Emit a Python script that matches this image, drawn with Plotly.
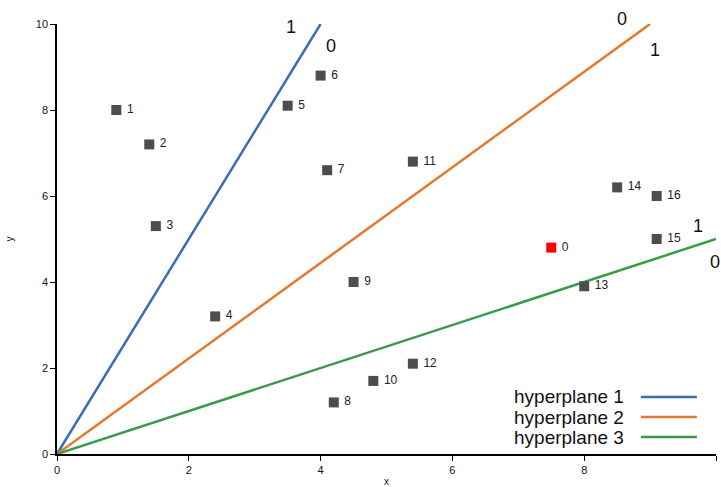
import plotly.graph_objects as go

# data points
pt_ids = [1, 2, 3, 4, 5, 6, 7, 8, 9, 10, 11, 12, 13, 14, 15, 16]
pt_x = [0.9, 1.4, 1.5, 2.4, 3.5, 4.0, 4.1, 4.2, 4.5, 4.8, 5.4, 5.4, 8.0, 8.5, 9.1, 9.1]
pt_y = [8.0, 7.2, 5.3, 3.2, 8.1, 8.8, 6.6, 1.2, 4.0, 1.7, 6.8, 2.1, 3.9, 6.2, 5.0, 6.0]
query_x = [7.5]
query_y = [4.8]
query_label = ["0"]

# hyperplanes: start and end points
hp_names = ["hyperplane 1", "hyperplane 2", "hyperplane 3"]
hp_x = [[0, 4.0], [0, 9.0], [0, 10.0]]
hp_y = [[0, 10.0], [0, 10.0], [0, 5.0]]
hp_colors = ["#3b6db3", "#e2792c", "#3a9a4a"]

# side labels near hyperplane ends (y capped at axis top; extra lift in px)
side_text = ["1", "0", "0", "1", "1", "0"]
side_x = [3.55, 4.16, 8.57, 9.07, 9.73, 9.98]
side_y = [9.93, 9.5, 10.0, 9.4, 5.3, 4.47]
side_lift = [0, 0, 5, 0, 0, 0]

fig = go.Figure()

for name, xs, ys, c in zip(hp_names, hp_x, hp_y, hp_colors):
    fig.add_trace(go.Scatter(x=xs, y=ys, mode="lines", name=name,
                             line=dict(color=c, width=2.5), showlegend=False))

fig.add_trace(go.Scatter(x=pt_x, y=pt_y, mode="markers+text",
                         text=[" " + str(i) for i in pt_ids],
                         textposition="middle right",
                         textfont=dict(size=12, color="#222"),
                         marker=dict(symbol="square", size=10, color="#4d4d4d"),
                         showlegend=False, cliponaxis=False))
fig.add_trace(go.Scatter(x=query_x, y=query_y, mode="markers+text",
                         text=[" " + s for s in query_label],
                         textposition="middle right",
                         textfont=dict(size=12, color="#222"),
                         marker=dict(symbol="square", size=10, color="#ff0000"),
                         showlegend=False, cliponaxis=False))

for t, sx, sy, lift in zip(side_text, side_x, side_y, side_lift):
    fig.add_annotation(x=sx, y=sy, xref="x", yref="y", text=t, showarrow=False,
                       xanchor="center", yanchor="middle", yshift=lift,
                       font=dict(size=18, color="#111"))

# manual legend (text then line on the right)
leg_y = [0.1326, 0.0860, 0.0395]
for name, c, ly in zip(hp_names, hp_colors, leg_y):
    fig.add_annotation(xref="paper", yref="paper", x=0.864, y=ly, text=name,
                       showarrow=False, xanchor="right", yanchor="middle",
                       font=dict(size=19, color="#111"))
    fig.add_shape(type="line", xref="paper", yref="paper",
                  x0=0.886, x1=0.971, y0=ly, y1=ly,
                  line=dict(color=c, width=2.5))

fig.update_layout(
    width=721, height=487,
    margin=dict(l=57, r=5, t=24, b=33),
    plot_bgcolor="white", paper_bgcolor="white",
    font=dict(family="Liberation Sans, Arial, sans-serif", color="#111"),
    showlegend=False,
)
fig.update_xaxes(range=[0, 10], tickvals=[0, 2, 4, 6, 8, 10], showgrid=False, zeroline=False,
                 showline=True, linecolor="black", linewidth=1.5, automargin=False,
                 ticks="outside", ticklen=5, tickcolor="black",
                 tickfont=dict(size=11), title=dict(text="x", font=dict(size=10), standoff=10))
fig.update_yaxes(range=[0, 10], tickvals=[0, 2, 4, 6, 8, 10], showgrid=False, zeroline=False,
                 showline=True, linecolor="black", linewidth=1.5, automargin=False,
                 ticks="outside", ticklen=5, tickcolor="black",
                 tickfont=dict(size=11), title=dict(text="y", font=dict(size=10), standoff=20))

fig.write_html("out.html")
